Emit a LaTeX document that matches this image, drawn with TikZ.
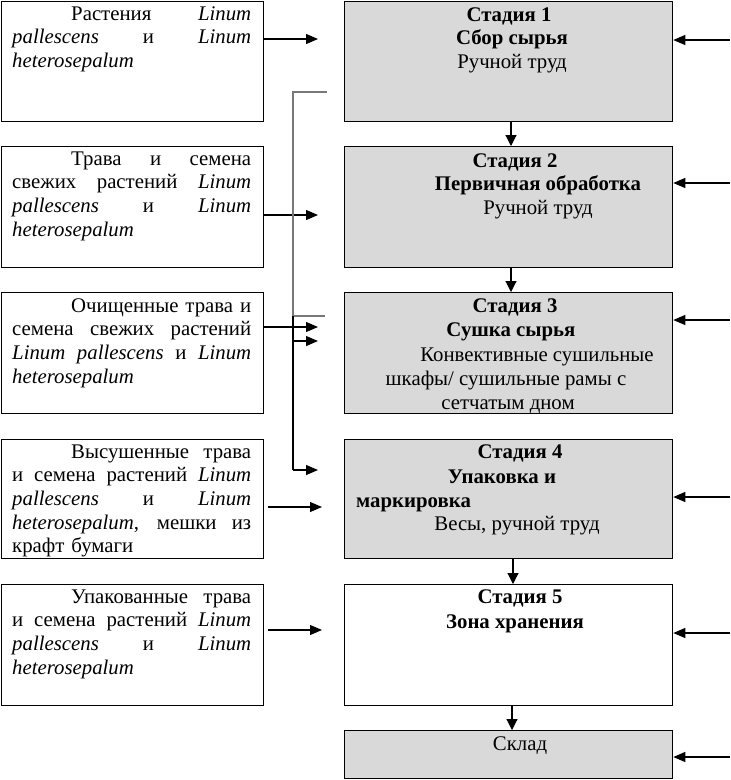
\documentclass[tikz,border=0pt]{standalone}
\usepackage{fontspec}
\setmainfont{Liberation Serif}
\usetikzlibrary{arrows.meta}
\definecolor{stagegray}{RGB}{217,217,217}
\definecolor{linegray}{RGB}{120,120,120}
\tikzset{
  lbox/.style={draw, line width=1.3pt, anchor=north west, inner sep=0pt, minimum width=262pt, minimum height=#1},
  sbox/.style={draw, line width=1.3pt, fill=stagegray, anchor=north west, inner sep=0pt, minimum width=328pt, minimum height=#1},
  wbox/.style={draw, line width=1.3pt, fill=white, anchor=north west, inner sep=0pt, minimum width=328pt, minimum height=#1},
  ltext/.style={anchor=north west, inner sep=0pt, text width=239pt, align=left, font=\fontsize{20.8}{23.7}\selectfont},
  stext/.style={anchor=base, inner sep=0pt, font=\fontsize{20.8}{24}\selectfont},
  btext/.style={anchor=base, inner sep=0pt, font=\fontsize{20.8}{24}\selectfont\bfseries},
  arr/.style={line width=1.1pt, -{Triangle[length=12pt,width=10pt]}},
  darr/.style={line width=1.1pt, -{Triangle[length=11pt,width=11pt]}},
}
\newcommand\jl[2]{\makebox[#1][s]{\spaceskip=\fontdimen2\font plus 1fil\relax #2}}
\begin{document}
\begin{tikzpicture}[x=1pt,y=-1pt]
\useasboundingbox (0,0) rectangle (731,780);
% left boxes
\node[lbox=120pt] (L1) at (1,1) {};
\node[lbox=121pt] (L2) at (1,146) {};
\node[lbox=121pt] (L3) at (1,292) {};
\node[lbox=119pt] (L4) at (1,439) {};
\node[lbox=121pt] (L5) at (1,584) {};
% stage boxes
\node[sbox=120pt] (S1) at (344,1) {};
\node[sbox=121pt] (S2) at (344,146) {};
\node[sbox=121pt] (S3) at (344,292) {};
\node[sbox=119pt] (S4) at (344,439) {};
\node[wbox=121pt] (S5) at (344,584) {};
\node[sbox=48pt] (S6) at (344,730) {};
% left texts
\node[ltext] (T1) at (12,3.4) {\strut\hspace*{59pt}\jl{180pt}{Растения \textit{Linum}}\\
\strut\jl{239pt}{\textit{pallescens} и \textit{Linum}}\\
\strut\textit{heterosepalum}};
\node[ltext] (T2) at (12,148.4) {\strut\hspace*{59pt}\jl{180pt}{Трава и семена}\\
\strut\jl{239pt}{свежих растений \textit{Linum}}\\
\strut\jl{239pt}{\textit{pallescens} и \textit{Linum}}\\
\strut\textit{heterosepalum}};
\node[ltext] (T3) at (12,295.4) {\strut\hspace*{59pt}\jl{180pt}{Очищенные трава и}\\
\strut\jl{239pt}{семена свежих растений}\\
\strut\jl{239pt}{\textit{Linum pallescens} и \textit{Linum}}\\
\strut\textit{heterosepalum}};
\node[ltext] (T4) at (12,441.4) {\strut\hspace*{59pt}\jl{180pt}{Высушенные трава}\\
\strut\jl{239pt}{и семена растений \textit{Linum}}\\
\strut\jl{239pt}{\textit{pallescens} и \textit{Linum}}\\
\strut\jl{239pt}{\textit{heterosepalum}, мешки из}\\
\strut крафт бумаги};
\node[ltext] (T5) at (12,586.4) {\strut\hspace*{59pt}\jl{180pt}{Упакованные трава}\\
\strut\jl{239pt}{и семена растений \textit{Linum}}\\
\strut\jl{239pt}{\textit{pallescens} и \textit{Linum}}\\
\strut\textit{heterosepalum}};
% stage texts
\node[btext] (s1a) at (509,21) {Стадия 1};
\node[btext] (s1b) at (512,44.5) {Сбор сырья};
\node[stext] (s1c) at (512,68) {Ручной труд};
\node[btext] (s2a) at (515,167) {Стадия 2};
\node[btext] (s2b) at (538,190.5) {Первичная обработка};
\node[stext] (s2c) at (538,214) {Ручной труд};
\node[btext] (s3a) at (515,312) {Стадия 3};
\node[btext] (s3b) at (511,336) {Сушка сырья};
\node[stext] (s3c) at (537,361) {Конвективные сушильные};
\node[stext] (s3d) at (506,385) {шкафы/ сушильные рамы с};
\node[stext] (s3e) at (508,409) {сетчатым дном};
\node[btext] (s4a) at (520,458) {Стадия 4};
\node[btext] (s4b) at (502,483) {Упаковка и};
\node[btext, anchor=base west] (s4c) at (356,507) {маркировка};
\node[stext] (s4d) at (517,530) {Весы, ручной труд};
\node[btext] (s5a) at (520,603) {Стадия 5};
\node[btext] (s5b) at (515,628) {Зона хранения};
\node[stext] (s6a) at (520,750) {Склад};
% left arrows
\coordinate (a1) at (318,39);
\coordinate (a2) at (318,215);
\coordinate (a3) at (318,327);
\coordinate (a4) at (322,507);
\coordinate (a5) at (322,630);
\draw[arr] (L1.east |- a1) -- (a1);
\draw[arr] (L2.east |- a2) -- (a2);
\draw[arr] (L3.east |- a3) -- (a3);
\draw[arr] (L4.east |- a4) ++(4,0) -- (a4);
\draw[arr] (L5.east |- a5) ++(4,0) -- (a5);
% right arrows
\coordinate (r1) at (730,40);
\coordinate (r2) at (730,183);
\coordinate (r3) at (730,320);
\coordinate (r4) at (730,497);
\coordinate (r5) at (730,633);
\coordinate (r6) at (730,757);
\draw[arr] (r1) -- (S1.east |- r1);
\draw[arr] (r2) -- (S2.east |- r2);
\draw[arr] (r3) -- (S3.east |- r3);
\draw[arr] (r4) -- (S4.east |- r4);
\draw[arr] (r5) -- (S5.east |- r5);
\draw[arr] (r6) -- (S6.east |- r6);
% down arrows
\draw[darr] (S1.south -| 511,0) -- (S2.north -| 511,0);
\draw[darr] (S2.south -| 511,0) -- (S3.north -| 511,0);
\draw[darr] (S4.south -| 513,0) -- (S5.north -| 513,0);
\draw[darr] (S5.south -| 512,0) -- (S6.north -| 512,0);
% bypass lines
\coordinate (g1) at (327,92);
\coordinate (g2) at (293,92);
\coordinate (g3) at (293,316);
\coordinate (g4) at (325,316);
\coordinate (b1) at (318,341);
\coordinate (b2) at (318,470);
\draw[linegray, line width=1.1pt] (g1) -- (g2) -- (g3) -- (g4);
\draw[line width=1.1pt] (g3) -- (g3 |- b2);
\draw[arr] (g3 |- b1) -- (b1);
\draw[arr] (g3 |- b2) -- (b2);
\end{tikzpicture}
\end{document}
